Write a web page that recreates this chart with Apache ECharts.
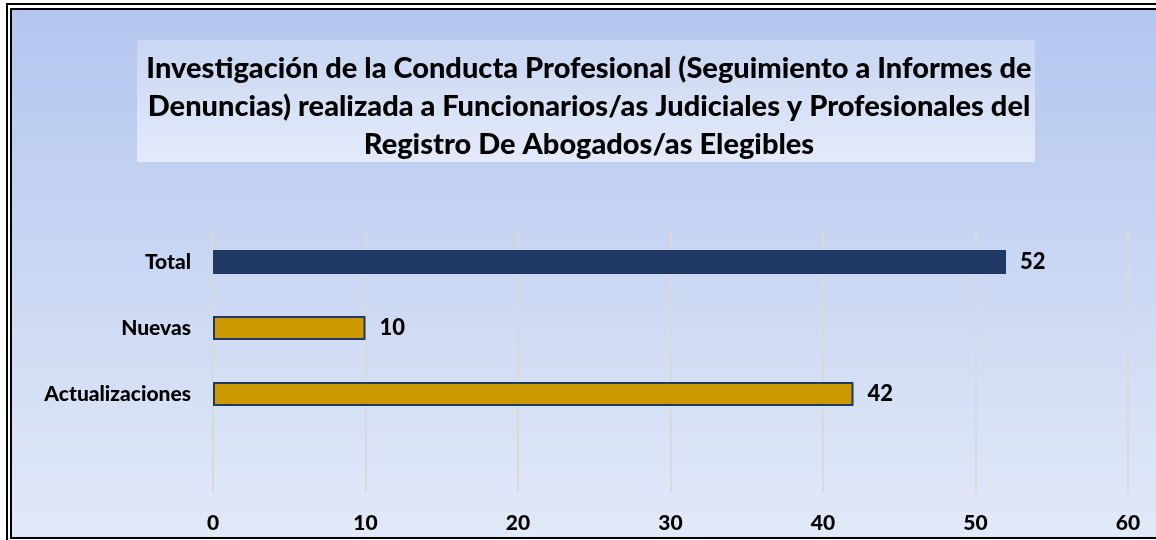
<!DOCTYPE html>
<html>
<head>
	<meta charset="utf-8">
	<title>Investigación de la Conducta Profesional</title>
	<script src="https://cdn.jsdelivr.net/npm/echarts@6/dist/echarts.min.js"></script>
	<style>
		html, body { margin: 0; padding: 0; background: #fff; }
		#main { width: 1156px; height: 540px; }
	</style>
</head>
<body>
<div id="main"></div>
<script type="text/javascript">
	var categories = ['Total', 'Nuevas', 'Actualizaciones'];
	var values = [52, 10, 42];
	var barColors = ['#1f3864', '#cc9900', '#cc9900'];
	var xTicks = [0, 10, 20, 30, 40, 50, 60];
	var titleText = 'Investigación de la Conducta Profesional (Seguimiento a Informes de\nDenuncias) realizada a Funcionarios/as Judiciales y Profesionales del\nRegistro De Abogados/as Elegibles';

	var myChart = echarts.init(document.getElementById('main'));

	var seriesData = values.map(function (v, i) {
		return { value: v, itemStyle: { color: barColors[i] } };
	});

	var option = {
		backgroundColor: '#ffffff',
		animation: false,
		textStyle: { fontFamily: 'Lato', fontWeight: 'bold', color: '#000' },
		graphic: [
			{
				type: 'rect', z: -10, silent: true,
				shape: { x: 11, y: 9, width: 1160, height: 529 },
				style: {
					fill: new echarts.graphic.LinearGradient(0, 0, 0, 1, [
						{ offset: 0, color: '#b3c6ef' },
						{ offset: 1, color: '#e2e9f8' }
					]),
					stroke: '#000', lineWidth: 2
				}
			},
			{
				type: 'rect', z: -11, silent: true,
				shape: { x: 7, y: 4, width: 1170, height: 540 },
				style: { fill: 'none', stroke: '#000', lineWidth: 2 }
			},
			{
				type: 'rect', z: -9, silent: true,
				shape: { x: 137, y: 40, width: 898, height: 122 },
				style: {
					fill: new echarts.graphic.LinearGradient(0, 0, 0, 1, [
						{ offset: 0, color: '#c8d6f3' },
						{ offset: 1, color: '#e4eaf9' }
					])
				}
			}
		],
		title: {
			text: titleText,
			left: 584,
			top: 45,
			textAlign: 'center',
			textStyle: {
				fontFamily: 'Lato', fontWeight: 900, fontSize: 29,
				lineHeight: 38, color: '#000'
			}
		},
		grid: { left: 213, right: 28, top: 229, bottom: 47 },
		xAxis: {
			type: 'value',
			min: 0, max: 60, interval: 10,
			axisLine: { show: false },
			axisTick: { show: false },
			axisLabel: {
				fontFamily: 'Lato', fontWeight: 900, fontSize: 21,
				color: '#000', margin: 20,
				formatter: function (v) { return xTicks.indexOf(v) >= 0 ? String(v) : ''; }
			},
			splitLine: { show: true, lineStyle: { color: '#d9d9d9', width: 2 } }
		},
		yAxis: {
			type: 'category',
			data: categories,
			inverse: true,
			max: 3,
			axisLine: { show: false },
			axisTick: { show: false },
			axisLabel: {
				fontFamily: 'Lato', fontWeight: 900, fontSize: 21,
				color: '#000', margin: 22
			}
		},
		series: [{
			type: 'bar',
			data: seriesData,
			barWidth: 24,
			itemStyle: { borderColor: '#1f3864', borderWidth: 2 },
			label: {
				show: true, position: 'right', distance: 14,
				fontFamily: 'Lato', fontWeight: 900, fontSize: 22, color: '#000'
			}
		}]
	};
	myChart.setOption(option);
</script>
</body>
</html>
